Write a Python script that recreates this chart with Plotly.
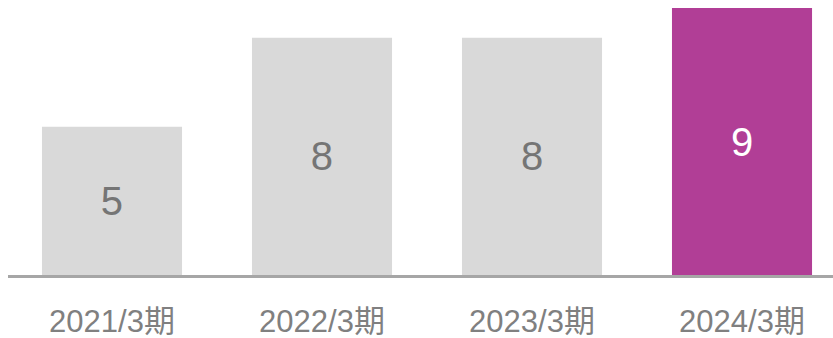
import plotly.graph_objects as go

# Fiscal periods and their values
periods = ["2021/3期", "2022/3期", "2023/3期", "2024/3期"]
values = [5, 8, 8, 9]
bar_colors = ["#d9d9d9", "#d9d9d9", "#d9d9d9", "#b13e96"]
text_colors = ["#757575", "#757575", "#757575", "#ffffff"]

FONT = "Arial, 'Liberation Sans', 'Noto Sans CJK JP', sans-serif"

fig = go.Figure(
    go.Bar(
        x=list(range(len(periods))),
        y=values,
        width=0.667,
        marker=dict(color=bar_colors, line=dict(width=0)),
        text=[str(v) for v in values],
        textposition="inside",
        insidetextanchor="middle",
        textangle=0,
        textfont=dict(family=FONT, size=40, color=text_colors),
        hoverinfo="skip",
    )
)

fig.update_layout(
    width=833,
    height=338,
    margin=dict(l=8, r=0, t=0, b=63),
    paper_bgcolor="white",
    plot_bgcolor="white",
    showlegend=False,
    font=dict(family=FONT),
    uniformtext=dict(mode=False),
)

fig.update_xaxes(
    range=[-0.4952, 3.4333],
    tickmode="array",
    tickvals=list(range(len(periods))),
    ticktext=periods,
    tickfont=dict(family=FONT, size=31, color="#808080"),
    showline=True,
    linecolor="#a6a6a6",
    linewidth=3,
    showgrid=False,
    zeroline=False,
    ticks="",
    ticklabelstandoff=17,
    automargin=False,
)

fig.update_yaxes(
    range=[0, 9.27],
    visible=False,
    showgrid=False,
    zeroline=False,
    automargin=False,
)

fig.write_html("out.html")
